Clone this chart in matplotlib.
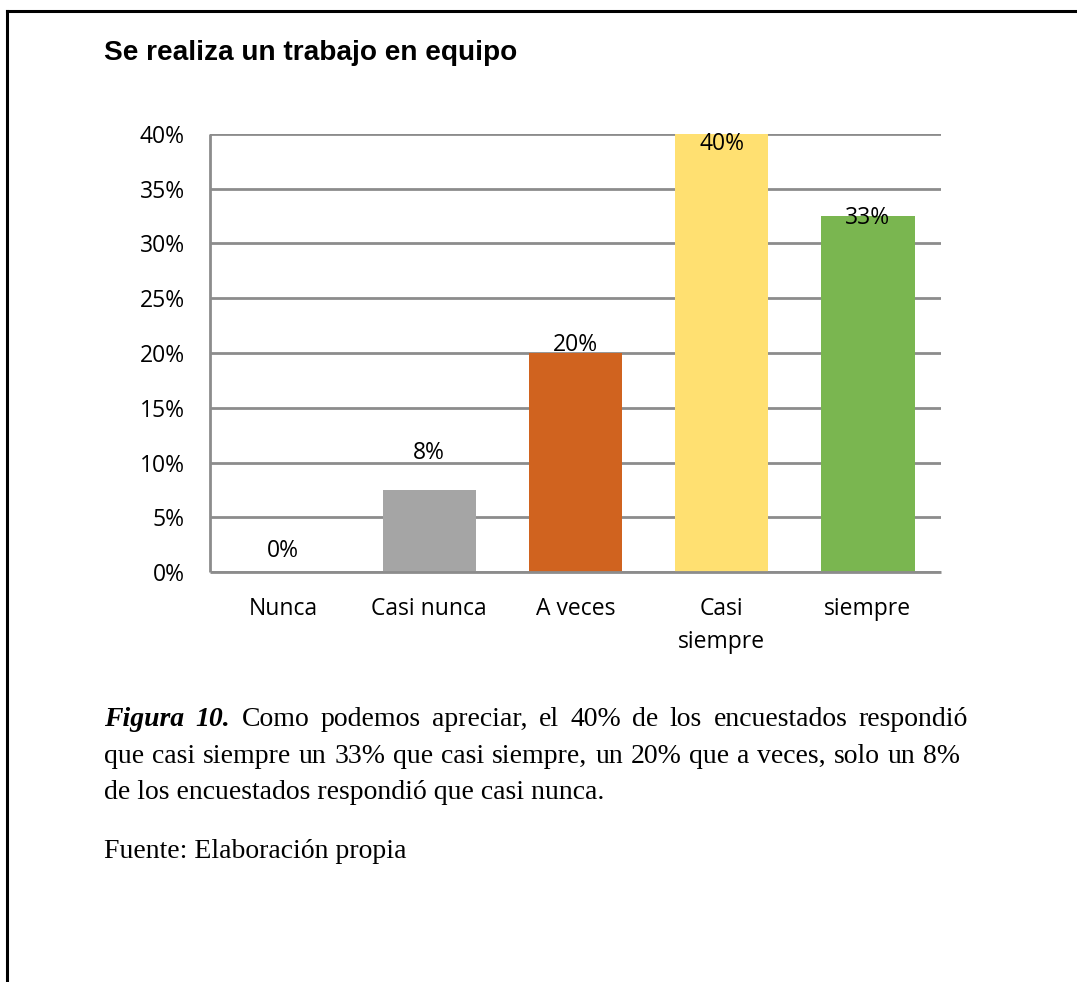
import matplotlib
matplotlib.use('Agg')
import matplotlib.pyplot as plt
from matplotlib.font_manager import FontProperties
from matplotlib.lines import Line2D

W, H = 1077, 982

categorias = ['Nunca', 'Casi nunca', 'A veces', 'Casi\nsiempre', 'siempre']
porcentajes = [0.0, 0.075, 0.20, 0.40, 0.325]
etiquetas = ['0%', '8%', '20%', '40%', '33%']
colores = ['#FFFFFF', '#A5A5A5', '#D0631F', '#FFE071', '#7AB650']
# desplazamiento vertical de cada etiqueta (puntos)
desplaz = [15, 26.5, 5.5, -7, -1.3]

ticks_y = [0, 0.05, 0.10, 0.15, 0.20, 0.25, 0.30, 0.35, 0.40]
ticks_y_txt = ['0%', '5%', '10%', '15%', '20%', '25%', '30%', '35%', '40%']

titulo = 'Se realiza un trabajo en equipo'
linea1 = [('Figura', 'bi'), ('10.', 'bi'), ('Como', 'r'), ('podemos', 'r'), ('apreciar,', 'r'),
          ('el', 'r'), ('40%', 'r'), ('de', 'r'), ('los', 'r'), ('encuestados', 'r'), ('respondió', 'r')]
linea2 = 'que casi siempre un 33% que casi siempre, un 20% que a veces, solo un 8%'
linea3 = 'de los encuestados respondió que casi nunca.'
fuente = 'Fuente: Elaboración propia'

GRIS = '#8C8C8C'
FUENTE_GRAF = 'Open Sans'
TAM_GRAF = 16.5


def px(x, y):
    # pixeles (origen arriba a la izquierda) -> fraccion de figura
    return x / W, 1 - y / H


fig = plt.figure(figsize=(W / 100, H / 100), dpi=100)

# marco superior e izquierdo
fig.add_artist(Line2D([7 / W, 1], [1 - 11 / H, 1 - 11 / H], transform=fig.transFigure, color='black', lw=2.2))
fig.add_artist(Line2D([7 / W, 7 / W], [0, 1 - 11 / H], transform=fig.transFigure, color='black', lw=2.2))

x, y = px(104, 60)
fig.text(x, y, titulo, fontsize=20.2, fontweight='bold', family='Liberation Sans', va='baseline', ha='left')

ax = fig.add_axes([210 / W, 1 - 572 / H, 731 / W, 438 / H])
pos = list(range(len(categorias)))
ax.bar(pos, porcentajes, width=0.64, color=colores, zorder=3)
ax.set_xlim(-0.5, len(categorias) - 0.5)
ax.set_ylim(0, 0.40)
ax.set_yticks(ticks_y)
ax.set_yticklabels(ticks_y_txt, family=FUENTE_GRAF, fontsize=TAM_GRAF)
ax.set_xticks(pos)
ax.set_xticklabels(categorias, family=FUENTE_GRAF, fontsize=TAM_GRAF, linespacing=1.5)
ax.tick_params(axis='y', length=0, pad=18)
ax.tick_params(axis='x', length=0, pad=18)
ax.yaxis.grid(True, color=GRIS, lw=2, zorder=0)
ax.set_axisbelow(True)
for lado in ['top', 'right']:
    ax.spines[lado].set_visible(False)
for lado in ['left', 'bottom']:
    ax.spines[lado].set_color(GRIS)
    ax.spines[lado].set_linewidth(2)
    ax.spines[lado].set_zorder(4)
    ax.spines[lado].set_capstyle('butt')

for i, (v, t) in enumerate(zip(porcentajes, etiquetas)):
    ax.annotate(t, xy=(i, v), xytext=(0, desplaz[i]), textcoords='offset points',
                ha='center', va='center', family=FUENTE_GRAF, fontsize=TAM_GRAF, zorder=5)

# pie de figura en Times, con justificado manual
serif = 'Liberation Serif'
fp_r = FontProperties(family=serif, size=20)
fp_bi = FontProperties(family=serif, size=20, weight='bold', style='italic')

renderer = fig.canvas.get_renderer()


def justificar(palabras, y, x0, x1):
    textos = []
    for p, estilo in palabras:
        fp = fp_bi if estilo == 'bi' else fp_r
        xf, yf = px(x0, y)
        textos.append(fig.text(xf, yf, p, fontproperties=fp, va='baseline', ha='left'))
    anchos = [t.get_window_extent(renderer).width for t in textos]
    hueco = (x1 - x0 - sum(anchos)) / (len(textos) - 1)
    xc = x0
    for t, a in zip(textos, anchos):
        t.set_x(xc / W)
        xc += a + hueco


justificar(linea1, 726, 104, 968)
justificar([(p, 'r') for p in linea2.split()], 763, 104, 960)
x, y = px(104, 799)
fig.text(x, y, linea3, fontproperties=fp_r, va='baseline', ha='left')
x, y = px(104, 858)
fig.text(x, y, fuente, fontproperties=fp_r, va='baseline', ha='left')

fig.savefig('out.png', dpi=100)
